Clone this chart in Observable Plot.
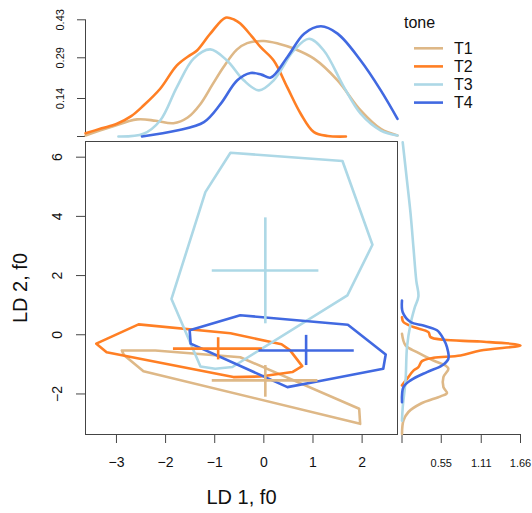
<!DOCTYPE html>
<html><head><meta charset="utf-8">
<script src="https://cdn.jsdelivr.net/npm/d3@7"></script>
<script src="https://cdn.jsdelivr.net/npm/@observablehq/plot@0.6"></script>
<style>
body{margin:0;background:#fff;}
#chart{position:relative;width:532px;height:513px;font-family:"Liberation Sans",Arial,Helvetica,sans-serif;}
#chart svg{position:absolute;left:0;top:0;overflow:visible;}
</style></head><body><div id="chart"></div>
<script>
// ---------- data ----------
const tones = ["T1", "T2", "T3", "T4"];
const toneColors = ["#DEB887", "#FF7F24", "#ADD8E6", "#4169E1"];
const xTicks = [-3, -2, -1, 0, 1, 2];
const yTicks = [-2, 0, 2, 4, 6];
const topDensityTicks = [0, 0.14, 0.29, 0.43];
const rightDensityTicks = [0, 0.55, 1.11, 1.66];
const xDomain = [-3.63, 2.72];
const yDomain = [-3.37, 6.53];
const xLabel = "LD 1, f0";
const yLabel = "LD 2, f0";
const legendTitle = "tone";

// convex hulls [LD1, LD2]
const hullT1 = [[-2.89,-0.53],[-2.21,-0.53],[-0.48,-0.76],[1.94,-2.50],[1.96,-3.01],[-2.45,-1.23],[-2.85,-0.68]];
const hullT2 = [[-3.41,-0.30],[-2.55,0.35],[-0.68,0.05],[0.36,-0.32],[0.53,-0.52],[0.78,-1.06],[0.58,-1.26],[-0.07,-1.41],[-0.62,-1.43],[-3.20,-0.59]];
const hullT3 = [[-0.68,6.15],[1.60,5.87],[2.21,3.04],[1.70,1.33],[-0.64,-1.09],[-0.99,-1.15],[-1.29,-1.07],[-1.88,1.21],[-1.19,4.82]];
const hullT4 = [[-0.48,0.66],[1.71,0.34],[2.48,-0.67],[2.43,-1.15],[1.14,-1.56],[0.48,-1.77],[-1.49,-0.30],[-1.51,0.15]];

// cross (centre with spread)
const crossCx  = [0.03, -0.93, 0.03, 0.86];
const crossCy  = [-1.54, -0.47, 2.17, -0.53];
const crossXlo = [-1.05, -1.84, -1.05, -0.10];
const crossXhi = [1.10, -0.03, 1.12, 1.84];
const crossYlo = [-2.11, -0.85, 0.37, -1.04];
const crossYhi = [-1.04, -0.10, 3.95, -0.02];

// top marginal densities [LD1, density]
const topT1 = [[-3.63,0.004],[-3.13,0.034],[-2.58,0.063],[-2.2,0.058],[-1.84,0.049],[-1.55,0.07],[-1.29,0.12],[-1.05,0.19],[-0.82,0.256],[-0.55,0.32],[-0.34,0.344],[0,0.352],[0.3,0.342],[0.61,0.324],[1.02,0.287],[1.5,0.207],[1.97,0.096],[2.38,0.028],[2.72,0.004]];
const topT2 = [[-3.63,0.012],[-3.3,0.03],[-2.99,0.047],[-2.7,0.075],[-2.45,0.114],[-2.11,0.176],[-1.77,0.262],[-1.5,0.30],[-1.36,0.317],[-1.09,0.379],[-0.78,0.438],[-0.6,0.43],[-0.48,0.416],[-0.25,0.37],[-0.07,0.33],[0.2,0.28],[0.48,0.18],[0.75,0.084],[1.02,0.016],[1.3,0.002],[1.67,0.0]];
const topT3 = [[-2.96,0.0],[-2.45,0.01],[-2.11,0.059],[-1.77,0.182],[-1.43,0.287],[-1.09,0.321],[-0.75,0.28],[-0.41,0.207],[-0.1,0.17],[0.2,0.207],[0.61,0.317],[0.92,0.36],[1.22,0.317],[1.63,0.182],[1.97,0.084],[2.38,0.022],[2.72,0.004]];
const topT4 = [[-2.48,0.0],[-1.77,0.022],[-1.22,0.053],[-0.88,0.12],[-0.54,0.207],[-0.27,0.234],[-0.05,0.228],[0.14,0.217],[0.48,0.293],[0.82,0.379],[1.16,0.406],[1.5,0.379],[1.97,0.28],[2.38,0.17],[2.72,0.065]];

// right marginal densities [LD2, density]
const rightT1 = [[0.03,0],[-0.36,0.05],[-0.59,0.21],[-0.87,0.44],[-1.04,0.61],[-1.15,0.65],[-1.43,0.58],[-1.77,0.58],[-1.97,0.63],[-2.08,0.54],[-2.33,0.26],[-2.61,0.09],[-2.9,0.02],[-3.35,0]];
const rightT2 = [[0.59,0],[0.43,0.02],[0.26,0.16],[0.09,0.37],[-0.08,0.40],[-0.17,0.58],[-0.23,1.10],[-0.36,1.66],[-0.53,1.10],[-0.70,0.82],[-0.78,0.44],[-0.89,0.28],[-1.09,0.23],[-1.21,0.16],[-1.49,0.07],[-1.71,0]];
const rightT3 = [[6.5,0.01],[5.2,0.07],[4.09,0.12],[2.96,0.16],[1.83,0.2],[1.3,0.23],[0.93,0.18],[0.37,0.12],[-0.42,0.07],[-1.54,0.05],[-2.45,0.01],[-2.9,0]];
const rightT4 = [[1.16,0],[0.76,0.01],[0.43,0.12],[0.31,0.30],[0.15,0.49],[-0.14,0.58],[-0.42,0.63],[-0.81,0.65],[-1.04,0.56],[-1.26,0.35],[-1.54,0.12],[-1.77,0.02],[-2.28,0]];

// ---------- tables ----------
const hulls = [hullT1, hullT2, hullT3, hullT4];
const tops = [topT1, topT2, topT3, topT4];
const rights = [rightT1, rightT2, rightT3, rightT4];
const hullRows = hulls.flatMap((h, i) => h.map(([x, y]) => ({tone: tones[i], x, y})));
const crossRows = tones.map((t, i) => ({tone: t, cx: crossCx[i], cy: crossCy[i], xlo: crossXlo[i], xhi: crossXhi[i], ylo: crossYlo[i], yhi: crossYhi[i]}));
const topRows = tops.flatMap((h, i) => h.map(([x, d]) => ({tone: tones[i], x, d})));
const rightRows = rights.flatMap((h, i) => h.map(([y, d]) => ({tone: tones[i], y, d})));

const fmt = d => (d < 0 ? "\u2212" + Math.abs(d) : String(d));
const font = "'Liberation Sans', Arial, Helvetica, sans-serif";
const axisColor = "#444";
const color = {domain: tones, range: toneColors};
const W = 532, H = 513;
const lw = 2.6;

const main = Plot.plot({
  width: W, height: H,
  marginLeft: 85, marginRight: 135, marginTop: 141, marginBottom: 79,
  x: {domain: xDomain},
  y: {domain: yDomain},
  color,
  style: {background: "white", fontFamily: font, overflow: "visible"},
  marks: [
    Plot.frame({stroke: axisColor}),
    Plot.axisX({ticks: xTicks, tickSize: 9, tickFormat: () => "", stroke: axisColor, label: null}),
    Plot.axisY({ticks: yTicks, tickSize: 9, tickFormat: () => "", stroke: axisColor, label: null}),
    Plot.text(xTicks, {x: d => d, frameAnchor: "bottom", dy: 28.5, text: fmt, fontSize: 14, fill: "#111", lineAnchor: "middle"}),
    Plot.text(yTicks, {y: d => d, frameAnchor: "left", dx: -27.5, rotate: -90, text: fmt, fontSize: 14, fill: "#111", textAnchor: "middle", lineAnchor: "middle"}),
    Plot.text([xLabel], {frameAnchor: "bottom", dy: 63.5, text: d => d, fontSize: 20, fill: "#111", lineAnchor: "middle"}),
    Plot.text([yLabel], {frameAnchor: "left", dx: -65, rotate: -90, text: d => d, fontSize: 20, fill: "#111", textAnchor: "middle", lineAnchor: "middle"}),
    Plot.line(hullRows, {x: "x", y: "y", z: "tone", stroke: "tone", strokeWidth: lw, curve: "linear-closed"}),
    Plot.ruleY(crossRows, {y: "cy", x1: "xlo", x2: "xhi", stroke: "tone", strokeWidth: lw}),
    Plot.ruleX(crossRows, {x: "cx", y1: "ylo", y2: "yhi", stroke: "tone", strokeWidth: lw})
  ]
});

const topPlot = Plot.plot({
  width: W, height: H,
  marginLeft: 85, marginRight: 135, marginTop: 19.3, marginBottom: 377,
  x: {domain: xDomain, axis: null},
  y: {domain: [topDensityTicks[0], topDensityTicks[topDensityTicks.length - 1]]},
  color,
  style: {background: "transparent", fontFamily: font, overflow: "visible"},
  marks: [
    Plot.ruleX([xDomain[0]], {y1: topDensityTicks[0], y2: topDensityTicks[topDensityTicks.length - 1], stroke: axisColor}),
    Plot.axisY({ticks: topDensityTicks, tickSize: 8, tickFormat: () => "", stroke: axisColor, label: null}),
    Plot.text(topDensityTicks.filter(d => d > 0), {y: d => d, frameAnchor: "left", dx: -25.5, rotate: -90, text: d => d.toFixed(2), fontSize: 11, fill: "#111", textAnchor: "middle", lineAnchor: "middle"}),
    Plot.line(topRows, {x: "x", y: "d", z: "tone", stroke: "tone", strokeWidth: lw, curve: "catmull-rom"})
  ]
});

const rightPlot = Plot.plot({
  width: W, height: H,
  marginLeft: 401.5, marginRight: 12, marginTop: 141, marginBottom: 79,
  x: {domain: [rightDensityTicks[0], rightDensityTicks[rightDensityTicks.length - 1]]},
  y: {domain: yDomain, axis: null},
  color,
  style: {background: "transparent", fontFamily: font, overflow: "visible"},
  marks: [
    Plot.ruleY([yDomain[0]], {x1: rightDensityTicks[0], x2: rightDensityTicks[rightDensityTicks.length - 1], stroke: axisColor}),
    Plot.axisX({ticks: rightDensityTicks, tickSize: 9, tickFormat: () => "", stroke: axisColor, label: null}),
    Plot.text(rightDensityTicks.filter(d => d > 0), {x: d => d, frameAnchor: "bottom", dy: 29, text: d => d.toFixed(2), fontSize: 11, fill: "#111", lineAnchor: "middle"}),
    Plot.line(rightRows, {x: "d", y: "y", z: "tone", stroke: "tone", strokeWidth: lw, curve: "catmull-rom"})
  ]
});

const chart = document.getElementById("chart");
chart.append(main, topPlot, rightPlot);

// legend
const leg = d3.create("svg").attr("width", W).attr("height", H)
  .style("font-family", font);
leg.append("text").attr("x", 404).attr("y", 28).attr("font-size", 16).attr("fill", "#111").text(legendTitle);
const items = leg.selectAll("g").data(tones).join("g")
  .attr("transform", (d, i) => `translate(0,${48.3 + i * 18.1})`);
items.append("line").attr("x1", 414).attr("x2", 443).attr("stroke", (d, i) => toneColors[i]).attr("stroke-width", lw);
items.append("text").attr("x", 454).attr("dy", "0.36em").attr("font-size", 16).attr("fill", "#111").text(d => d);
chart.append(leg.node());
</script></body></html>
